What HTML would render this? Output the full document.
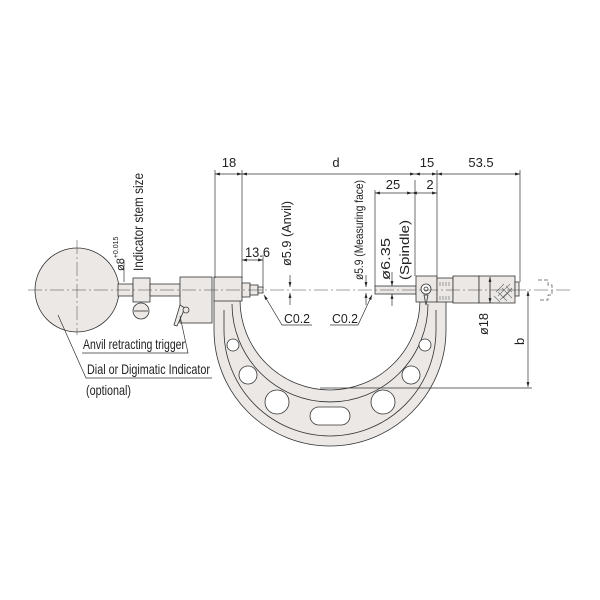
<!DOCTYPE html>
<html><head><meta charset="utf-8">
<style>
html,body{margin:0;padding:0;background:#fff;}
svg{display:block;}
text{font-family:"Liberation Sans",sans-serif;fill:#222;}
</style></head><body>
<svg width="600" height="600" viewBox="0 0 600 600" xmlns="http://www.w3.org/2000/svg">
<defs>
<marker id="a" viewBox="0 0 10 10" refX="10" refY="5" markerWidth="7" markerHeight="7" orient="auto-start-reverse"><path d="M0,2 L10,5 L0,8 z" fill="#222"/></marker>
</defs>
<g stroke="#333" stroke-width="0.8" fill="#ebe8e6">
<path d="M214,300 L214,330 A116,116 0 0 0 446,330 L446,300 L420,300 A90,90 0 0 1 240,300 Z"/>
<path d="M224,310 L224,330 A106,106 0 0 0 436,330 L436,310" fill="none"/>
<path d="M232,304 A98,98 0 0 0 428,304" fill="none"/>
<circle cx="233" cy="345" r="6" fill="#fff"/>
<circle cx="248" cy="375" r="9" fill="#fff"/>
<circle cx="277" cy="402" r="12" fill="#fff"/>
<circle cx="383" cy="402" r="12" fill="#fff"/>
<circle cx="411" cy="375" r="9" fill="#fff"/>
<circle cx="425" cy="345" r="6" fill="#fff"/>
<rect x="310" y="407" width="40" height="18" rx="9" fill="#fff"/>
<circle cx="77" cy="290" r="42"/>
<rect x="118" y="284" width="15" height="12"/>
<rect x="133" y="278" width="17" height="24"/>
<circle cx="141" cy="311" r="8"/>
<line x1="134" y1="311" x2="148" y2="311"/>
<rect x="150" y="284" width="30" height="12"/>
<rect x="180" y="277" width="32" height="46"/>
<path d="M174,325 L180,305 L185,308 L177,326 Z"/>
<circle cx="186" cy="310" r="3"/>
<rect x="214" y="277" width="28" height="24"/>
<rect x="242" y="283" width="8" height="14"/>
<rect x="250" y="285" width="8" height="10"/>
<rect x="258" y="287" width="5" height="6"/>
<rect x="375" y="286" width="41" height="8"/>
<rect x="416" y="276" width="21" height="26"/>
<circle cx="426" cy="289" r="5" fill="#fff"/>
<circle cx="426" cy="289" r="2" fill="#fff"/>
<path d="M424,295 L426,305 L428,295 Z"/>
<rect x="437" y="278" width="16" height="24"/>
<rect x="453" y="276" width="26" height="27"/>
<rect x="479" y="276" width="36" height="27"/>
<rect x="515" y="282" width="4" height="14"/>
</g>
<g stroke="#666" stroke-width="0.6">
<path d="M498,296 l12,-12 M503,298 l9,-9 M496,292 l8,-8 M500,300 l12,-12 M494,296 l6,6 M498,292 l9,9 M502,288 l10,10 M506,286 l6,6"/>
<path d="M440,282v4M443,282v4M446,282v4M449,282v4M440,296v4M443,296v4M446,296v4M449,296v4"/>
</g>
<path d="M538,280 h10 v5 h4 v10 h-4 v5 h-10" fill="none" stroke="#555" stroke-width="0.7" stroke-dasharray="4,2"/>
<g stroke="#444" stroke-width="0.5" stroke-dasharray="14,3,2,3" fill="none">
<line x1="28" y1="290" x2="570" y2="290"/>
<line x1="77" y1="240" x2="77" y2="335"/>
</g>
<g stroke="#333" stroke-width="0.7" fill="none">
<line x1="215" y1="170" x2="215" y2="278"/>
<line x1="242" y1="170" x2="242" y2="278"/>
<line x1="415" y1="180" x2="415" y2="276"/>
<line x1="437" y1="170" x2="437" y2="276"/>
<line x1="520" y1="170" x2="520" y2="282"/>
<line x1="375" y1="190" x2="375" y2="286"/>
<line x1="215" y1="174" x2="242" y2="174" marker-start="url(#a)" marker-end="url(#a)"/>
<line x1="242" y1="174" x2="415" y2="174" marker-start="url(#a)" marker-end="url(#a)"/>
<line x1="415" y1="174" x2="437" y2="174" marker-start="url(#a)" marker-end="url(#a)"/>
<line x1="437" y1="174" x2="520" y2="174" marker-start="url(#a)" marker-end="url(#a)"/>
<line x1="375" y1="193" x2="412" y2="193" marker-start="url(#a)" marker-end="url(#a)"/>
<line x1="412" y1="193" x2="437" y2="193" marker-start="url(#a)" marker-end="url(#a)"/>
<line x1="263" y1="255" x2="263" y2="288"/>
<line x1="242" y1="260" x2="263" y2="260" marker-start="url(#a)" marker-end="url(#a)"/>
<line x1="290" y1="275" x2="290" y2="287" marker-end="url(#a)"/>
<line x1="290" y1="305" x2="290" y2="293" marker-end="url(#a)"/>
<line x1="366" y1="275" x2="366" y2="287" marker-end="url(#a)"/>
<line x1="366" y1="305" x2="366" y2="293" marker-end="url(#a)"/>
<line x1="392" y1="272" x2="392" y2="286" marker-end="url(#a)"/>
<line x1="392" y1="306" x2="392" y2="294" marker-end="url(#a)"/>
<line x1="490" y1="303" x2="490" y2="277" marker-end="url(#a)"/>
<line x1="490" y1="277" x2="490" y2="303" marker-end="url(#a)"/>
<line x1="528" y1="291" x2="528" y2="387" marker-start="url(#a)" marker-end="url(#a)"/>
<line x1="320" y1="388" x2="532" y2="388"/>
<path d="M264,295 L282,325 L312,325" marker-start="url(#a)"/>
<path d="M372,295 L358,325 L330,325" marker-start="url(#a)"/>
<path d="M180,316 L188,353 L82,353"/>
<path d="M58,315 L86,378 L212,378"/>
<line x1="124" y1="282" x2="124" y2="260"/>
</g>
<g font-size="13">
<text x="229" y="167" text-anchor="middle">18</text>
<text x="336" y="167" text-anchor="middle">d</text>
<text x="427" y="167" text-anchor="middle">15</text>
<text x="481" y="167" text-anchor="middle">53.5</text>
<text x="393" y="189" text-anchor="middle">25</text>
<text x="430" y="189" text-anchor="middle">2</text>
<text x="245" y="257" font-size="14" textLength="25" lengthAdjust="spacingAndGlyphs">13.6</text>
<text x="284" y="323" textLength="26" lengthAdjust="spacingAndGlyphs">C0.2</text>
<text x="332" y="323" textLength="26" lengthAdjust="spacingAndGlyphs">C0.2</text>
<text x="83" y="349" font-size="14" textLength="102" lengthAdjust="spacingAndGlyphs">Anvil retracting trigger</text>
<text x="87" y="374" font-size="14" textLength="123" lengthAdjust="spacingAndGlyphs">Dial or Digimatic Indicator</text>
<text x="86" y="395" font-size="14" textLength="45" lengthAdjust="spacingAndGlyphs">(optional)</text>
<text transform="translate(143,271) rotate(-90)" font-size="14" textLength="98" lengthAdjust="spacingAndGlyphs">Indicator stem size</text>
<text transform="translate(124,271) rotate(-90)" font-size="11">ø8<tspan font-size="7" dy="-6">+0.015</tspan></text>
<text transform="translate(291,266) rotate(-90)" textLength="65" lengthAdjust="spacingAndGlyphs">ø5.9 (Anvil)</text>
<text transform="translate(363,280) rotate(-90)" font-size="12" textLength="100" lengthAdjust="spacingAndGlyphs">ø5.9 (Measuring face)</text>
<text transform="translate(390,280) rotate(-90)" textLength="42" lengthAdjust="spacingAndGlyphs">ø6.35</text>
<text transform="translate(409,280) rotate(-90)" textLength="60" lengthAdjust="spacingAndGlyphs">(Spindle)</text>
<text transform="translate(488,335) rotate(-90)" textLength="22" lengthAdjust="spacingAndGlyphs">ø18</text>
<text transform="translate(524,345) rotate(-90)">b</text>
</g>
</svg>
</body></html>
